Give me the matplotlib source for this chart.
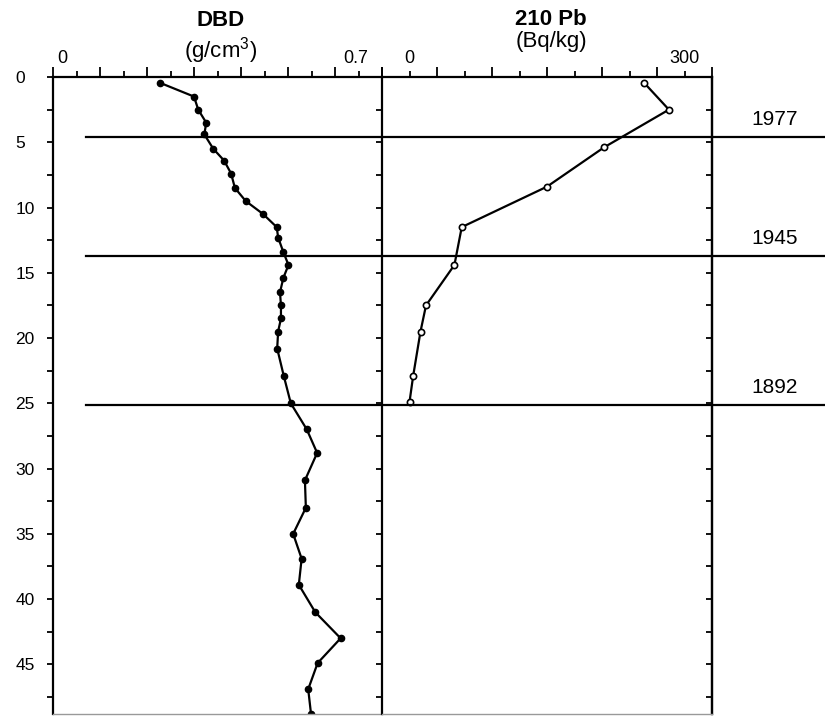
import matplotlib
matplotlib.use("Agg")
from matplotlib import pyplot as plt
from matplotlib import transforms
from matplotlib.lines import Line2D
from matplotlib.ticker import MultipleLocator, FixedLocator, NullFormatter

plt.rcParams['font.family'] = ['Liberation Sans', 'DejaVu Sans']
plt.rcParams['mathtext.fontset'] = 'custom'
plt.rcParams['mathtext.rm'] = 'Liberation Sans'
plt.rcParams['mathtext.it'] = 'Liberation Sans:italic'
plt.rcParams['mathtext.bf'] = 'Liberation Sans:bold'

# dry bulk density profile (g/cm3) vs depth (cm)
dbd_depth = [0.45, 1.5, 2.5, 3.5, 4.4, 5.5, 6.4, 7.4, 8.5, 9.5, 10.5, 11.5, 12.3,
             13.4, 14.4, 15.4, 16.5, 17.5, 18.5, 19.5, 20.8, 22.9, 25.0, 27.0,
             28.8, 30.9, 33.0, 35.0, 36.9, 38.9, 41.0, 43.0, 44.9, 46.9, 48.8]
dbd = [0.228, 0.300, 0.309, 0.326, 0.322, 0.341, 0.364, 0.379, 0.387, 0.410,
       0.447, 0.476, 0.479, 0.490, 0.501, 0.490, 0.483, 0.485, 0.485, 0.479,
       0.477, 0.491, 0.506, 0.540, 0.562, 0.536, 0.538, 0.511, 0.529, 0.523,
       0.558, 0.612, 0.563, 0.543, 0.549]

# 210Pb activity (Bq/kg) vs depth (cm)
pb_depth = [0.45, 2.5, 5.4, 8.4, 11.5, 14.4, 17.5, 19.5, 22.9, 24.9]
pb = [256, 283, 212, 150, 57, 49, 18, 12, 4, 0]

# dated horizons
date_depth = [4.6, 13.7, 25.1]
date_year = ["1977", "1945", "1892"]

W, H = 825, 716
fig = plt.figure(figsize=(W / 100, H / 100), dpi=100)
bottom = 1 - 714 / H
height = (714 - 77) / H
ax1 = fig.add_axes([53 / W, bottom, 329 / W, height])
ax2 = fig.add_axes([382 / W, bottom, 330 / W, height], sharey=ax1)

ax1.plot(dbd, dbd_depth, color='k', lw=1.6, marker='o', ms=4.5,
         mfc='k', mec='k')
ax2.plot(pb, pb_depth, color='k', lw=1.6, marker='o', ms=4.5,
         mfc='white', mec='k', mew=1.2)

ax1.set_ylim(48.8, 0)
ax1.set_xlim(0, 0.7)
ax2.set_xlim(-30, 330)

for ax in (ax1, ax2):
    for s in ('top', 'left', 'right'):
        ax.spines[s].set_linewidth(1.6)
    ax.spines['bottom'].set_color('#999999')
    ax.spines['bottom'].set_linewidth(1.0)
    ax.xaxis.set_ticks_position('top')
    ax.tick_params(axis='x', which='major', direction='out', length=7,
                   width=1.3, labeltop=False, labelbottom=False)
    ax.tick_params(axis='x', which='minor', direction='out', length=4,
                   width=1.3)
    ax.yaxis.set_major_locator(MultipleLocator(5))
    ax.yaxis.set_minor_locator(MultipleLocator(2.5))
    ax.yaxis.set_ticks_position('left')
    ax.tick_params(axis='y', which='both', direction='out', length=4,
                   width=1.3)
ax1.spines['right'].set_visible(False)

ax1.xaxis.set_major_locator(MultipleLocator(0.1))
ax1.xaxis.set_minor_locator(MultipleLocator(0.05))
ax2.xaxis.set_major_locator(MultipleLocator(60, offset=-30))
ax2.xaxis.set_minor_locator(FixedLocator([0, 60, 120, 180, 240, 300]))
ax2.xaxis.set_minor_formatter(NullFormatter())

# depth labels, left aligned
ax1.tick_params(axis='y', labelsize=12.5, pad=23)
for lab in ax1.get_yticklabels():
    lab.set_horizontalalignment('left')
ax2.tick_params(axis='y', labelleft=False)

# inward ticks on right edge of the Pb panel
sec = ax2.secondary_yaxis('right')
sec.yaxis.set_major_locator(MultipleLocator(2.5))
sec.tick_params(direction='in', length=4, width=1.3, labelright=False)
sec.spines['right'].set_linewidth(1.6)

# top axis value labels
for ax, xs, txt in ((ax1, [0.02, 0.645], ["0", "0.7"]),
                    (ax2, [0, 300], ["0", "300"])):
    for x, t in zip(xs, txt):
        ax.annotate(t, xy=(x, 1), xycoords=('data', 'axes fraction'),
                    xytext=(0, 10), textcoords='offset points',
                    ha='center', va='baseline', fontsize=13,
                    annotation_clip=False)

fig.text(221 / W, 1 - 26 / H, "DBD", ha='center', va='baseline',
         fontsize=16, fontweight='bold')
fig.text(221 / W, 1 - 57 / H, "(g/cm$^3$)", ha='center', va='baseline',
         fontsize=16)
fig.text(551 / W, 1 - 25 / H, "210 Pb", ha='center', va='baseline',
         fontsize=16, fontweight='bold')
fig.text(551 / W, 1 - 47 / H, "(Bq/kg)", ha='center', va='baseline',
         fontsize=16)

# horizon lines across both panels and into the margin
trans = transforms.blended_transform_factory(fig.transFigure, ax1.transData)
for d, yr in zip(date_depth, date_year):
    fig.add_artist(Line2D([86 / W, 1.0], [d, d], transform=trans,
                          color='k', lw=1.6))
    ax2.annotate(yr, xy=(751 / W, d), xycoords=trans, xytext=(0, 8.5),
                 textcoords='offset points', ha='left', va='baseline',
                 fontsize=15, annotation_clip=False)

fig.savefig("out.png", dpi=100)
